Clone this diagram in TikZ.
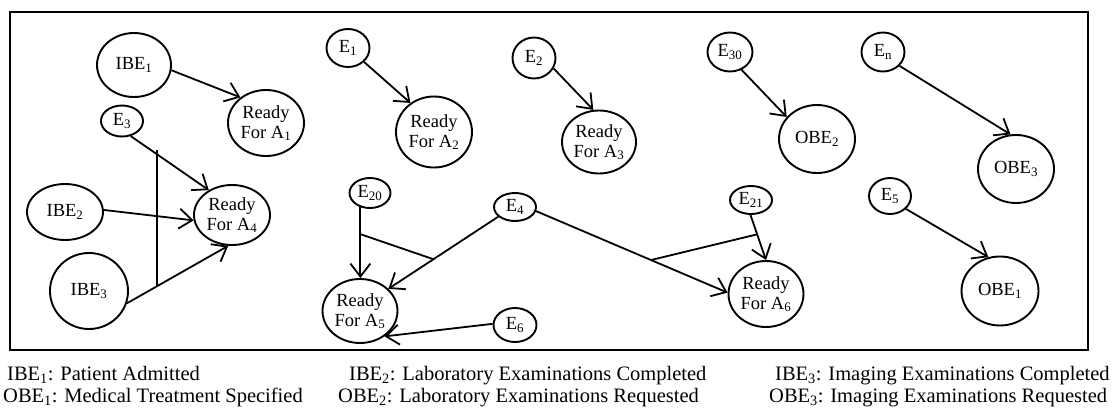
\documentclass[tikz,border=0pt]{standalone}
\usepackage{fontspec}
\setmainfont{Liberation Serif}
\usetikzlibrary{shapes.geometric,arrows.meta,calc}
\begin{document}
\begin{tikzpicture}[x=1pt,y=-1pt,
  ev/.style={ellipse,draw,line width=1.9pt,inner sep=0pt,align=center,font=\fontsize{18.5}{20}\selectfont},
  sz/.style 2 args={minimum width=#1pt,minimum height=#2pt},
  arr/.style={line width=1.8pt,-{Straight Barb[length=13pt,width=20pt,line width=1.8pt]}},
  ln/.style={line width=1.8pt},
  leg/.style={anchor=base west,inner sep=0pt,font=\fontsize{20.5}{22}\selectfont}]
\useasboundingbox (0,0) rectangle (1112,410);
\draw[line width=2.8pt] (10,12) rectangle (1088,350);
% nodes
\node[ev,sz={74}{64}] (IBE1) at (134,65) {IBE\textsubscript{1}};
\node[ev,sz={76}{66}] (A1) at (266,123) {Ready\\For A\textsubscript{1}};
\node[ev,sz={42}{31}] (E3) at (122,121) {E\textsubscript{3}};
\node[ev,sz={76}{56}] (IBE2) at (65,212) {IBE\textsubscript{2}};
\node[ev,sz={76}{60}] (A4) at (232,215) {Ready\\For A\textsubscript{4}};
\node[ev,sz={78}{76}] (IBE3) at (89,291) {IBE\textsubscript{3}};
\node[ev,sz={43}{38}] (E1) at (348,48) {E\textsubscript{1}};
\node[ev,sz={76}{71}] (A2) at (434,132) {Ready\\For A\textsubscript{2}};
\node[ev,sz={43}{41}] (E2) at (534,58) {E\textsubscript{2}};
\node[ev,sz={74}{63}] (A3) at (599,142) {Ready\\For A\textsubscript{3}};
\node[ev,sz={45}{39}] (E30) at (730,52) {E\textsubscript{30}};
\node[ev,sz={76}{68}] (OBE2) at (817,139) {OBE\textsubscript{2}};
\node[ev,sz={43}{39}] (En) at (883,52) {E\textsubscript{n}};
\node[ev,sz={76}{68}] (OBE3) at (1016,169) {OBE\textsubscript{3}};
\node[ev,sz={42}{36}] (E5) at (890,196) {E\textsubscript{5}};
\node[ev,sz={77}{69}] (OBE1) at (1000,291) {OBE\textsubscript{1}};
\node[ev,sz={41}{30}] (E20) at (370,193) {E\textsubscript{20}};
\node[ev,sz={42}{28}] (E4) at (515,207) {E\textsubscript{4}};
\node[ev,sz={43}{34}] (E6) at (515,325) {E\textsubscript{6}};
\node[ev,sz={75}{64}] (A5) at (360,311) {Ready\\For A\textsubscript{5}};
\node[ev,sz={42}{28}] (E21) at (751,200) {E\textsubscript{21}};
\node[ev,sz={75}{66}] (A6) at (766,294) {Ready\\For A\textsubscript{6}};
% connectors
\draw[arr] (IBE1.-8) -- (A1.135);
\draw[arr] (E1.-41) -- (A2.129);
\draw[arr] (E2.-28) -- (A3.100);
\draw[arr] (E30.-57) -- (OBE2.144);
\draw[arr] (En.-40) -- (OBE3.99);
\draw[arr] (E5.-39) -- (OBE1.109);
\draw[arr] (E3.-60) -- (A4.133);
\draw[arr] (IBE2.3) -- (A4.188);
\draw[arr] (IBE3.-18) -- (A4.-97);
\coordinate (b1) at ($(IBE3.-18)!0.3!(A4.-97)$);
\coordinate (b1top) at (158,150);
\draw[ln] (b1) -- (b1 |- b1top);
\draw[arr] (E20.-124) -- (E20.-124 |- A5.north);
\coordinate (j1) at ($(E20.-124)!0.38!(E20.-124 |- A5.north)$);
\draw[arr] (E4.-150) -- (A5.38);
\coordinate (j2) at ($(E4.-150)!0.59!(A5.38)$);
\draw[ln] (j1) -- (j2);
\draw[arr] (E6.177) -- (A5.-46);
\draw[arr] (E4.-11) -- (A6.178);
\coordinate (j3) at ($(E4.-11)!0.6!(A6.178)$);
\draw[arr] (E21.-92) -- (A6.90);
\coordinate (j4) at ($(E21.-92)!0.43!(A6.90)$);
\draw[ln] (j3) -- (j4);
% legend
\node[leg] (L1) at (7,380) {IBE\textsubscript{1}: Patient Admitted};
\node[leg] (L2) at (3,402) {OBE\textsubscript{1}: Medical Treatment Specified};
\node[leg] (L3) at (349,380) {IBE\textsubscript{2}: Laboratory Examinations Completed};
\node[leg] (L4) at (338,402) {OBE\textsubscript{2}: Laboratory Examinations Requested};
\node[leg] (L5) at (775,380) {IBE\textsubscript{3}: Imaging Examinations Completed};
\node[leg] (L6) at (769,402) {OBE\textsubscript{3}: Imaging Examinations Requested};
\end{tikzpicture}
\end{document}
